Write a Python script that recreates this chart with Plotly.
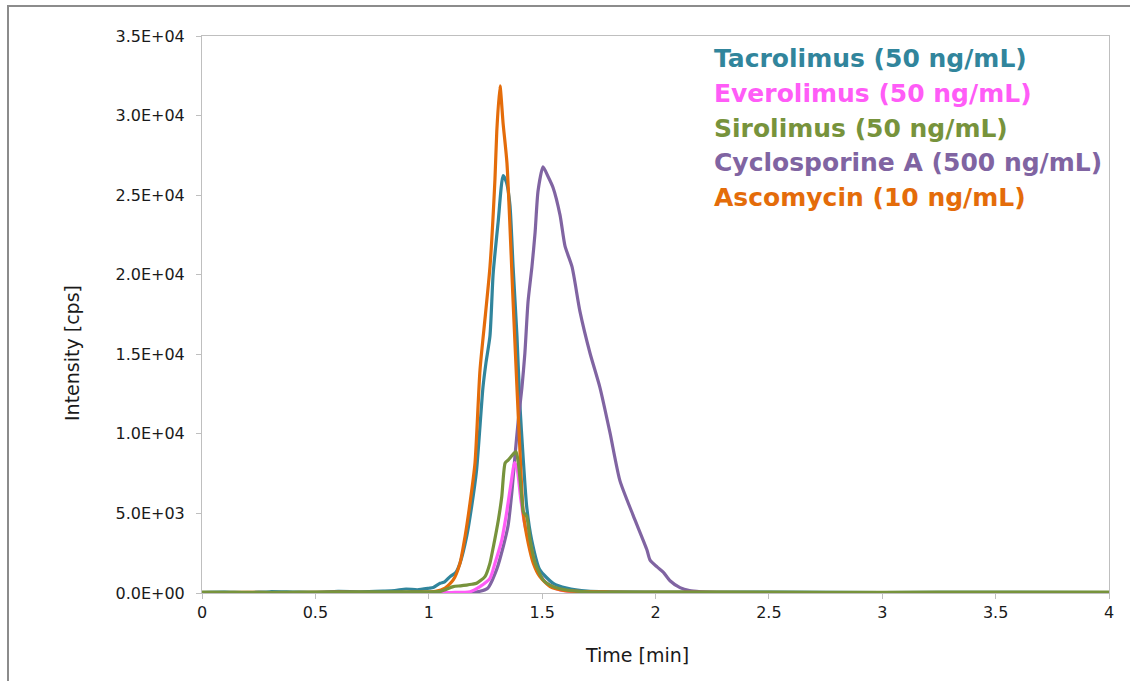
import plotly.graph_objects as go

# ---------------- data ----------------
tac_t = [0, 0.1, 0.2, 0.3, 0.4, 0.5, 0.6, 0.7, 0.8, 0.85, 0.9, 0.95, 1.0, 1.02, 1.05, 1.07, 1.094, 1.12, 1.138,
         1.167, 1.189, 1.211, 1.239, 1.252, 1.270, 1.284, 1.306, 1.328, 1.343, 1.358, 1.372, 1.389, 1.402, 1.416,
         1.432, 1.454, 1.49, 1.549, 1.608, 1.7, 2.0, 2.5, 3.0, 3.5, 4.0]
tac_v = [30, 50, 20, 80, 60, 40, 100, 80, 120, 150, 250, 200, 300, 350, 610, 700, 1030, 1300, 1880,
         3540, 5420, 7730, 12910, 14430, 16160, 20060, 23310, 26230, 25800, 24390, 20490, 16160, 11830, 8570,
         5420, 3330, 1450, 610, 310, 120, 60, 50, 30, 40, 20]

evr_t = [0, 0.5, 1.0, 1.1, 1.182, 1.226, 1.270, 1.292, 1.322, 1.343, 1.365, 1.378, 1.39, 1.405, 1.425,
         1.447, 1.476, 1.520, 1.579, 1.7, 2.0, 2.5, 3.0, 3.5, 4.0]
evr_v = [0, 10, 20, 30, 80, 400, 920, 1870, 3330, 5010, 7100, 8200, 7800, 6000, 4200,
         3120, 1450, 610, 190, 50, 20, 10, 10, 10, 10]

sir_t = [0, 0.3, 0.6, 0.9, 1.05, 1.108, 1.14, 1.167, 1.19, 1.211, 1.248, 1.270, 1.285, 1.307, 1.322, 1.337,
         1.351, 1.365, 1.385, 1.395, 1.41, 1.417, 1.432, 1.447, 1.469, 1.505, 1.549, 1.608, 1.7, 2.0, 2.5,
         3.0, 3.5, 4.0]
sir_v = [50, 40, 60, 80, 100, 400, 450, 500, 550, 610, 1030, 1880, 2910, 4590, 6050, 8170,
         8360, 8600, 8880, 8170, 6050, 5110, 4800, 3330, 1880, 820, 400, 190, 80, 60, 50,
         40, 60, 50]

cyc_t = [0, 0.5, 1.0, 1.2, 1.26, 1.30, 1.33, 1.350, 1.367, 1.380, 1.394, 1.411, 1.424, 1.438, 1.455, 1.469,
         1.482, 1.504, 1.525, 1.548, 1.579, 1.601, 1.632, 1.667, 1.711, 1.755, 1.799, 1.843, 1.901, 1.962,
         1.976, 2.007, 2.035, 2.064, 2.108, 2.15, 2.2, 2.3, 2.5, 3.0, 4.0]
cyc_v = [20, 30, 20, 40, 300, 1500, 3000, 4240, 6400, 8570, 10740, 12910, 15080, 18320, 20490, 22660,
         25260, 26780, 26200, 25480, 23740, 21790, 20490, 17680, 15080, 12910, 10090, 7060, 4890, 2720,
         2070, 1640, 1300, 770, 340, 150, 80, 30, 20, 10, 10]

asc_t = [0, 0.2, 0.4, 0.6, 0.8, 0.95, 1.03, 1.072, 1.108, 1.138, 1.160, 1.182, 1.204, 1.226, 1.250, 1.270,
         1.292, 1.300, 1.314, 1.328, 1.345, 1.372, 1.389, 1.402, 1.417, 1.439, 1.461, 1.49, 1.535, 1.6, 1.8,
         2.0, 2.5, 3.0, 3.5, 4.0]
asc_v = [10, 40, 20, 60, 30, 50, 100, 310, 820, 1880, 3540, 5650, 8170, 14010, 17500, 20490,
         26000, 29000, 31870, 29500, 27000, 18320, 12900, 9000, 5010, 3120, 1880, 1030, 400, 150, 60,
         40, 30, 20, 30, 20]

series_names = ["Tacrolimus (50 ng/mL)", "Everolimus (50 ng/mL)", "Sirolimus (50 ng/mL)",
                "Cyclosporine A (500 ng/mL)", "Ascomycin (10 ng/mL)"]
series_colors = ["#31859C", "#FF5CF7", "#77933C", "#8064A2", "#E46C0A"]

y_tick_vals = [0, 5000, 10000, 15000, 20000, 25000, 30000, 35000]
y_tick_text = ["0.0E+00", "5.0E+03", "1.0E+04", "1.5E+04", "2.0E+04", "2.5E+04", "3.0E+04", "3.5E+04"]
x_tick_vals = [0, 0.5, 1, 1.5, 2, 2.5, 3, 3.5, 4]
x_tick_text = ["0", "0.5", "1", "1.5", "2", "2.5", "3", "3.5", "4"]

# ---------------- figure ----------------
W, H = 1130, 681
L, R, T, B = 202, 1109, 36, 593  # plot area in pixels

data = {
    0: (tac_t, tac_v),
    1: (evr_t, evr_v),
    2: (sir_t, sir_v),
    3: (cyc_t, cyc_v),
    4: (asc_t, asc_v),
}
draw_order = [0, 3, 1, 4, 2]

fig = go.Figure()
for i in draw_order:
    t, v = data[i]
    fig.add_trace(go.Scatter(x=t, y=v, mode="lines", name=series_names[i],
                             line=dict(color=series_colors[i], width=3.2, shape="spline", smoothing=0.6),
                             showlegend=False))

def px_to_paper_x(px):
    return (px - L) / (R - L)

def px_to_paper_y(py):
    return (B - py) / (B - T)

font_family = "DejaVu Sans"

fig.update_layout(
    width=W, height=H,
    margin=dict(l=L, r=W - R, t=T, b=H - B, pad=0),
    paper_bgcolor="white", plot_bgcolor="white",
    showlegend=False,
    xaxis=dict(range=[0, 4], tickvals=x_tick_vals, ticktext=x_tick_text,
               showgrid=False, zeroline=False, showline=True, linecolor="#BFBFBF", linewidth=1,
               mirror=True, ticks="outside", ticklen=5, tickcolor="#BFBFBF",
               tickfont=dict(family=font_family, size=16, color="#1a1a1a")),
    yaxis=dict(range=[0, 35000], tickvals=y_tick_vals, ticktext=y_tick_text,
               showgrid=False, zeroline=False, showline=True, linecolor="#BFBFBF", linewidth=1,
               mirror=True, ticks="outside", ticklen=5, tickcolor="#BFBFBF", ticklabelstandoff=8,
               tickfont=dict(family=font_family, size=16, color="#1a1a1a")),
)

# axis titles
fig.add_annotation(x=px_to_paper_x(637), y=px_to_paper_y(655), xref="paper", yref="paper",
                   text="Time [min]", showarrow=False, xanchor="center", yanchor="middle",
                   font=dict(family=font_family, size=19, color="#1a1a1a"))
fig.add_annotation(x=px_to_paper_x(72), y=px_to_paper_y(353), xref="paper", yref="paper",
                   text="Intensity [cps]", showarrow=False, textangle=-90, xanchor="center", yanchor="middle",
                   font=dict(family=font_family, size=19, color="#1a1a1a"))

# legend text
legend_y = [59, 93.5, 128, 162.5, 197]
for i in range(5):
    fig.add_annotation(x=px_to_paper_x(712), y=px_to_paper_y(legend_y[i]), xref="paper", yref="paper",
                       text="<b>" + series_names[i] + "</b>", showarrow=False,
                       xanchor="left", yanchor="middle",
                       font=dict(family=font_family, size=25, color=series_colors[i]))

# outer frame
fig.add_shape(type="rect", xref="paper", yref="paper",
              x0=px_to_paper_x(8), x1=px_to_paper_x(1145), y0=px_to_paper_y(700), y1=px_to_paper_y(6),
              line=dict(color="#8C8C8C", width=2), fillcolor="rgba(0,0,0,0)", layer="above")

fig.write_html("out.html", post_script="document.body.style.margin='0';",
               config={"displayModeBar": False})
